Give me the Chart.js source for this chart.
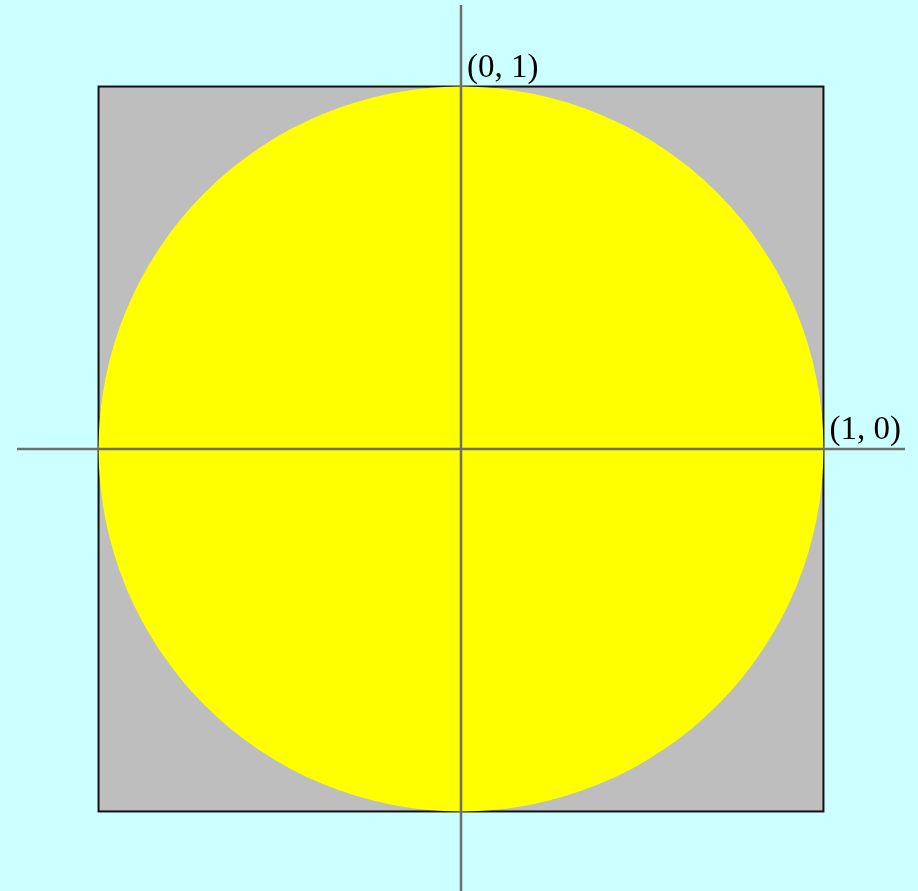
<!DOCTYPE html>
<html>
<head>
<meta charset="utf-8">
<script src="https://cdn.jsdelivr.net/npm/chart.js@4/dist/chart.umd.min.js"></script>
<style>
  html, body { margin: 0; padding: 0; background: #CCFFFF; }
  #wrap { width: 918px; height: 891px; }
</style>
</head>
<body>
<div id="wrap"><canvas id="chart"></canvas></div>
<script>
// data
let xRange = [-1.225, 1.225];
let yRange = [-1.2195, 1.225];
let squareCorners = [[-1, -1], [1, 1]];
let circleCenter = [0, 0];
let circleRadius = 1;
let xAxisLine = [{ x: -1.225, y: 0 }, { x: 1.225, y: 0 }];
let yAxisLine = [{ x: 0, y: -1.2195 }, { x: 0, y: 1.225 }];
let labelTexts = ["(0, 1)", "(1, 0)"];
let labelPoints = [[0, 1], [1, 0]];

// square + circle under the axis lines
const shapes = {
  id: "shapes",
  beforeDatasetsDraw(c) {
    const ctx = c.ctx, sx = c.scales.x, sy = c.scales.y;
    let x0 = sx.getPixelForValue(squareCorners[0][0]);
    let x1 = sx.getPixelForValue(squareCorners[1][0]);
    let y0 = sy.getPixelForValue(squareCorners[1][1]);
    let y1 = sy.getPixelForValue(squareCorners[0][1]);
    ctx.save();
    ctx.fillStyle = "#BEBEBE";
    ctx.fillRect(x0, y0, x1 - x0, y1 - y0);
    ctx.strokeStyle = "#111";
    ctx.lineWidth = 2;
    ctx.strokeRect(x0, y0, x1 - x0, y1 - y0);

    let cx = sx.getPixelForValue(circleCenter[0]);
    let cy = sy.getPixelForValue(circleCenter[1]);
    let r = sx.getPixelForValue(circleCenter[0] + circleRadius) - cx;
    ctx.fillStyle = "#FFFF00";
    ctx.beginPath();
    ctx.arc(cx, cy, r, 0, Math.PI * 2);
    ctx.fill();
    ctx.restore();
  },
  afterDatasetsDraw(c) {
    const ctx = c.ctx, sx = c.scales.x, sy = c.scales.y;
    ctx.save();
    ctx.fillStyle = "#000";
    ctx.font = "33px 'Liberation Serif', serif";
    ctx.textBaseline = "alphabetic";
    labelTexts.forEach((t, i) => {
      let px = sx.getPixelForValue(labelPoints[i][0]);
      let py = sy.getPixelForValue(labelPoints[i][1]);
      ctx.fillText(t, px + 6, py - 10);
    });
    ctx.restore();
  }
};

new Chart(document.getElementById("chart"), {
  type: "scatter",
  data: {
    datasets: [
      { data: xAxisLine, showLine: true, borderColor: "#6e6e6e", borderWidth: 2.5, pointRadius: 0 },
      { data: yAxisLine, showLine: true, borderColor: "#6e6e6e", borderWidth: 2.5, pointRadius: 0 }
    ]
  },
  options: {
    responsive: true,
    maintainAspectRatio: false,
    animation: false,
    layout: { padding: { left: 17, right: 13, top: 5, bottom: 0 } },
    plugins: { legend: { display: false }, tooltip: { enabled: false } },
    scales: {
      x: { type: "linear", min: xRange[0], max: xRange[1], display: false },
      y: { type: "linear", min: yRange[0], max: yRange[1], display: false }
    }
  },
  plugins: [shapes]
});
</script>
</body>
</html>
